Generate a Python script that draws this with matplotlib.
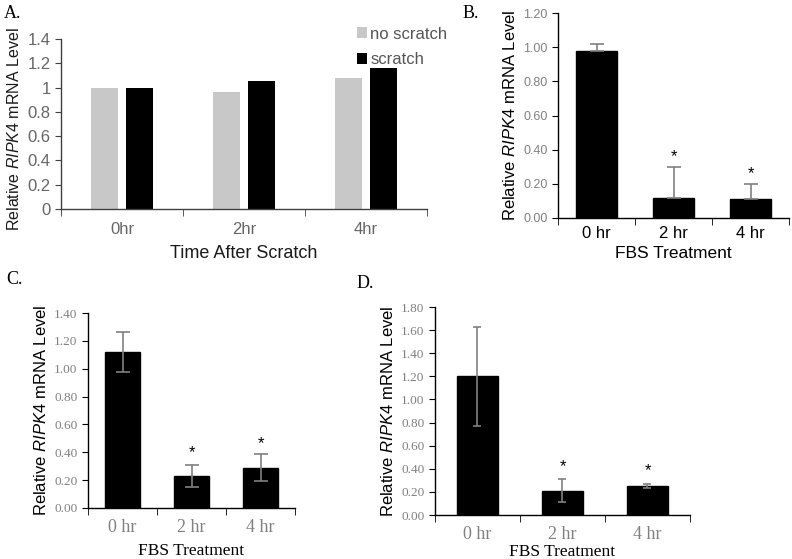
import numpy as np
import matplotlib
matplotlib.use('Agg')
import matplotlib.pyplot as plt
from matplotlib.ticker import FixedLocator

plt.rcParams['font.family'] = 'Liberation Sans'
plt.rcParams['mathtext.fontset'] = 'custom'
plt.rcParams['mathtext.rm'] = 'Liberation Sans'
plt.rcParams['mathtext.it'] = 'Liberation Sans:italic'

#==============================================================================
# DATA
#==============================================================================

# Panel A - scratch assay
a_times      = ['0hr', '2hr', '4hr']
a_noscratch  = [1.00, 0.96, 1.08]
a_scratch    = [1.00, 1.05, 1.16]
a_yticks     = [0, 0.2, 0.4, 0.6, 0.8, 1.0, 1.2, 1.4]
a_yticklbl   = ['0', '0.2', '0.4', '0.6', '0.8', '1', '1.2', '1.4']

# Panels B-D - FBS treatment
fbs_times    = ['0 hr', '2 hr', '4 hr']

b_vals       = [0.98, 0.12, 0.11]
b_err        = [0.04, 0.18, 0.09]
b_star       = [None, 0.36, 0.26]
b_yticks     = [0.0, 0.2, 0.4, 0.6, 0.8, 1.0, 1.2]

c_vals       = [1.12, 0.23, 0.29]
c_err        = [0.145, 0.08, 0.095]
c_star       = [None, 0.40, 0.46]
c_yticks     = [0.0, 0.2, 0.4, 0.6, 0.8, 1.0, 1.2, 1.4]

d_vals       = [1.20, 0.21, 0.25]
d_err        = [0.43, 0.10, 0.02]
d_star       = [None, 0.42, 0.38]
d_yticks     = [0.0, 0.2, 0.4, 0.6, 0.8, 1.0, 1.2, 1.4, 1.6, 1.8]

YLABEL = r'Relative $\it{RIPK4}$ mRNA Level'

W, H = 792, 559
fig = plt.figure(figsize=(W / 100, H / 100), dpi=100)


def px_axes(left, top, right, bottom):
    """Axes from pixel box (origin top-left)."""
    return fig.add_axes([left / W, 1 - bottom / H,
                         (right - left) / W, (bottom - top) / H])


def style_axes(ax, ncat, spine_col):
    for s in ['top', 'right']:
        ax.spines[s].set_visible(False)
    for s in ['left', 'bottom']:
        ax.spines[s].set_color(spine_col)
        ax.spines[s].set_linewidth(1.0)
    ax.set_xlim(-0.5, ncat - 0.5)
    ax.set_xticks(range(ncat))
    ax.xaxis.set_minor_locator(FixedLocator(np.arange(-0.5, ncat, 1.0)))
    ax.tick_params(axis='x', which='major', length=0)
    ax.tick_params(axis='x', which='minor', length=5, color=spine_col,
                   direction='out')
    ax.tick_params(axis='y', length=4, color=spine_col, direction='out')


def fbs_panel(ax, vals, err, stars, yticks, upper_only, serif, ytick_size,
              xtick_size, xlabel_size, width, capsize, xtick_pad, xlabel_pad):
    x = np.arange(len(vals))
    yerr = [np.zeros(len(err)), err] if upper_only else err
    ax.bar(x, vals, width=width, color='black', edgecolor='black', zorder=2)
    ax.errorbar(x, vals, yerr=yerr, fmt='none', ecolor='#808080',
                elinewidth=1.2, capsize=capsize, capthick=1.2, zorder=3)
    for xi, s in zip(x, stars):
        if s is not None:
            ax.text(xi, s, '*', ha='center', va='center', fontsize=12,
                    color='black')
    style_axes(ax, len(vals), 'black')
    ax.set_ylim(yticks[0], yticks[-1])
    ax.set_yticks(yticks)
    fam = 'Liberation Serif' if serif else 'Liberation Sans'
    ax.set_yticklabels([f'{t:.2f}' for t in yticks], family=fam,
                       fontsize=ytick_size, color='#808080')
    ax.set_xticklabels(fbs_times, family=fam, fontsize=xtick_size,
                       color='#808080' if serif else 'black')
    ax.tick_params(axis='x', which='major', pad=xtick_pad)
    ax.set_xlabel('FBS Treatment', family=fam, fontsize=xlabel_size,
                  color='black', labelpad=xlabel_pad)
    ax.set_ylabel(YLABEL, fontsize=12, color='black')


#==============================================================================
# PANEL A
#==============================================================================

axA = px_axes(61, 39, 427, 209)
xa = np.arange(len(a_times))
bw = 0.22
axA.bar(xa - 0.145, a_noscratch, width=bw, color='#c8c8c8', label='no scratch')
axA.bar(xa + 0.145, a_scratch, width=bw, color='black', label='scratch')
style_axes(axA, len(a_times), '#404040')
axA.set_ylim(0, 1.4)
axA.set_yticks(a_yticks)
axA.set_yticklabels(a_yticklbl, fontsize=12, color='#666666')
axA.set_xticklabels(a_times, fontsize=12, color='#666666')
axA.tick_params(axis='x', which='major', pad=9)
axA.set_xlabel('Time After Scratch', fontsize=13, color='#1a1a1a', labelpad=6)
axA.set_ylabel(YLABEL, fontsize=11.5, color='#1a1a1a')
axA.yaxis.set_label_coords(-0.107, 0.47)
axA.legend(loc='upper left', bbox_to_anchor=(0.79, 1.112), frameon=False,
           fontsize=12, handlelength=0.6, handleheight=0.6, handletextpad=0.2,
           labelspacing=0.65, labelcolor='#555555', borderaxespad=0)

#==============================================================================
# PANELS B, C, D
#==============================================================================

axB = px_axes(558, 13, 789, 218)
fbs_panel(axB, b_vals, b_err, b_star, b_yticks, True, False, 9,
          12, 12.5, 0.53, 5, 6, 3)

axC = px_axes(88, 313, 295, 508)
fbs_panel(axC, c_vals, c_err, c_star, c_yticks, False, True, 9.5,
          13, 12.5, 0.51, 5, 8, 5)

axD = px_axes(435, 307, 690, 515)
fbs_panel(axD, d_vals, d_err, d_star, d_yticks, False, True, 9.5,
          13, 12.5, 0.49, 3, 8, 1)

# Panel letters
for lbl, px, py in [('A.', 4, 13), ('B.', 463, 14), ('C.', 6, 280), ('D.', 357, 284)]:
    fig.text(px / W, 1 - py / H, lbl, family='Liberation Serif', fontsize=13,
             ha='left', va='center', color='black')

plt.savefig('out.png', dpi=100)
